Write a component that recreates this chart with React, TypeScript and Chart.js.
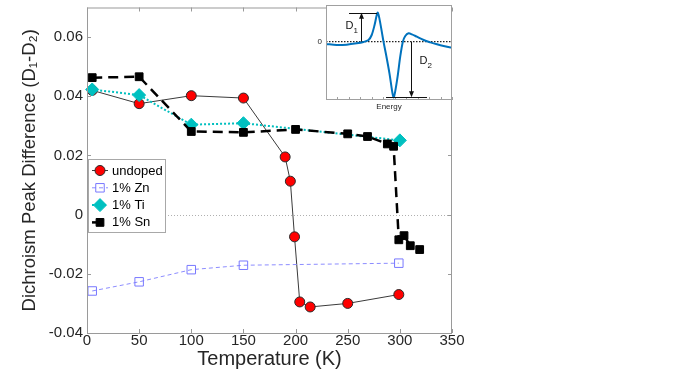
import React, { useEffect, useRef } from 'react';
import { Chart, registerables } from 'chart.js';

Chart.register(...registerables);

// ---------- main chart data ----------
const undopedT = [5, 50, 100, 150, 190, 195, 199, 204, 214, 250, 299];
const undopedD = [0.042, 0.0375, 0.0402, 0.0394, 0.0195, 0.0113, -0.0075, -0.0295, -0.0312, -0.03, -0.027];
const znT = [5, 50, 100, 150, 299];
const znD = [-0.0258, -0.0227, -0.0186, -0.0171, -0.0164];
const tiT = [5, 50, 100, 150, 300];
const tiD = [0.0423, 0.0404, 0.0304, 0.0309, 0.0251];
const snT = [5, 50, 100, 150, 200, 250, 269, 288, 294, 299, 304, 310, 319];
const snD = [0.0463, 0.0466, 0.0281, 0.0278, 0.0288, 0.0273, 0.0264, 0.0239, 0.0231, -0.0085, -0.0071, -0.0105, -0.0118];
const seriesLabels = ['undoped', '1% Zn', '1% Ti', '1% Sn'];

const xTicks = [0, 50, 100, 150, 200, 250, 300, 350];
const yTicks = [-0.04, -0.02, 0, 0.02, 0.04, 0.06];
const yTickLabels = ['-0.04', '-0.02', '0', '0.02', '0.04', '0.06'];

// ---------- inset data ----------
const energy = [0, 9.35, 18.0, 26.8, 32.7, 37.1, 39.9, 42.4, 44.3, 45.2, 46.6, 48.7, 50.2, 52.5, 55.4, 57.8, 59.0, 60.1, 62.5, 64.8, 67.1, 69.2, 72.1, 75.0, 79.3, 85.3, 91.1, 96.9, 102.7, 110];
const signal = [-0.07, -0.1, -0.09, -0.05, -0.01, 0.05, 0.2, 0.5, 0.8, 0.87, 0.7, 0.3, 0.0, -0.4, -0.95, -1.5, -1.67, -1.55, -1.05, -0.45, 0.0, 0.17, 0.25, 0.22, 0.15, 0.05, -0.02, -0.08, -0.13, -0.18];
const insetXTicks = [0, 10, 20, 30, 40, 50, 60, 70, 80, 90, 100, 110];
const d1Arrow = { x: 30.3, from: 0, to: 0.87, barFrom: 20.1, barTo: 44.6 };
const d2Arrow = { x: 74.2, from: 0, to: -1.67, barFrom: 52.4, barTo: 88.2 };

const FONT = "'Liberation Sans', Arial, Helvetica, sans-serif";
const TXT = '#262626';

const pts = (xs: number[], ys: number[]) => xs.map((x, i) => ({ x, y: ys[i] }));

function drawMarker(ctx: CanvasRenderingContext2D, style: string, x: number, y: number, r: number, fill: string, stroke: string) {
  ctx.save();
  ctx.setLineDash([]);
  ctx.beginPath();
  if (style === 'circle') {
    ctx.arc(x, y, r, 0, Math.PI * 2);
  } else if (style === 'rect') {
    const s = r * Math.SQRT1_2;
    ctx.rect(x - s, y - s, 2 * s, 2 * s);
  } else {
    ctx.moveTo(x, y - r);
    ctx.lineTo(x + r, y);
    ctx.lineTo(x, y + r);
    ctx.lineTo(x - r, y);
    ctx.closePath();
  }
  ctx.fillStyle = fill;
  ctx.fill();
  ctx.strokeStyle = stroke;
  ctx.lineWidth = 1;
  ctx.stroke();
  ctx.restore();
}

const mainPlugin = {
  id: 'mainDecor',
  beforeDatasetsDraw(chart: any) {
    const { ctx, chartArea, scales } = chart;
    const y0 = scales.y.getPixelForValue(0);
    ctx.save();
    ctx.strokeStyle = '#b0b0b0';
    ctx.lineWidth = 1;
    ctx.setLineDash([1, 2]);
    ctx.beginPath();
    ctx.moveTo(chartArea.left, Math.round(y0) + 0.5);
    ctx.lineTo(chartArea.right, Math.round(y0) + 0.5);
    ctx.stroke();
    ctx.restore();
  },
  afterDatasetsDraw(chart: any) {
    const { ctx, chartArea, scales } = chart;
    const { left, right, top, bottom } = chartArea;
    ctx.save();
    ctx.strokeStyle = '#9a9a9a';
    ctx.lineWidth = 1;
    ctx.setLineDash([]);
    ctx.strokeRect(left + 0.5, top + 0.5, right - left - 1, bottom - top);
    ctx.beginPath();
    xTicks.forEach((v) => {
      const px = Math.round(scales.x.getPixelForValue(v)) + 0.5;
      ctx.moveTo(px, bottom);
      ctx.lineTo(px, bottom - 4);
      ctx.moveTo(px, top);
      ctx.lineTo(px, top + 4);
    });
    yTicks.forEach((v) => {
      const py = Math.round(scales.y.getPixelForValue(v)) + 0.5;
      ctx.moveTo(left, py);
      ctx.lineTo(left + 4, py);
      ctx.moveTo(right, py);
      ctx.lineTo(right - 4, py);
    });
    ctx.stroke();
    ctx.restore();
  },
  afterDraw(chart: any) {
    const { ctx } = chart;
    const bx = 88, by = 159, bw = 77, bh = 73;
    ctx.save();
    ctx.fillStyle = '#ffffff';
    ctx.fillRect(bx, by, bw, bh);
    ctx.strokeStyle = '#a8a8a8';
    ctx.lineWidth = 1;
    ctx.strokeRect(bx + 0.5, by + 0.5, bw, bh);
    chart.data.datasets.forEach((ds: any, i: number) => {
      const ry = by + 11.5 + i * 17.3;
      ctx.save();
      ctx.strokeStyle = ds.borderColor;
      ctx.lineWidth = ds.borderWidth;
      ctx.setLineDash(ds.borderDash || []);
      ctx.beginPath();
      ctx.moveTo(bx + 4, ry);
      ctx.lineTo(bx + 20, ry);
      ctx.stroke();
      ctx.restore();
      drawMarker(ctx, ds.pointStyle === 'rectRot' ? 'diamond' : ds.pointStyle, bx + 12, ry, ds.pointRadius, ds.pointBackgroundColor, ds.pointBorderColor);
      ctx.fillStyle = '#000';
      ctx.font = `13px ${FONT}`;
      ctx.textBaseline = 'middle';
      ctx.textAlign = 'left';
      ctx.fillText(seriesLabels[i], bx + 24, ry + 0.5);
    });
    ctx.restore();
  },
};

const insetPlugin = {
  id: 'insetDecor',
  beforeDraw(chart: any) {
    const { ctx, chartArea } = chart;
    ctx.save();
    ctx.fillStyle = '#ffffff';
    ctx.fillRect(chartArea.left, chartArea.top, chartArea.right - chartArea.left, chartArea.bottom - chartArea.top);
    ctx.restore();
  },
  beforeDatasetsDraw(chart: any) {
    const { ctx, chartArea, scales } = chart;
    const y0 = scales.y.getPixelForValue(0);
    ctx.save();
    ctx.strokeStyle = '#222';
    ctx.lineWidth = 1.3;
    ctx.setLineDash([1.5, 1.5]);
    ctx.beginPath();
    ctx.moveTo(chartArea.left, y0);
    ctx.lineTo(chartArea.right, y0);
    ctx.stroke();
    ctx.restore();
  },
  afterDatasetsDraw(chart: any) {
    const { ctx, chartArea, scales } = chart;
    const { left, right, top, bottom } = chartArea;
    const xs = scales.x, ys = scales.y;
    ctx.save();
    ctx.strokeStyle = '#a0a0a0';
    ctx.lineWidth = 1;
    ctx.strokeRect(left + 0.5, top + 0.5, right - left - 1, bottom - top - 1);
    ctx.beginPath();
    insetXTicks.forEach((v) => {
      const px = Math.round(xs.getPixelForValue(v)) + 0.5;
      ctx.moveTo(px, bottom);
      ctx.lineTo(px, bottom - 3);
    });
    ctx.stroke();

    const arrow = (a: any) => {
      const ax = Math.round(xs.getPixelForValue(a.x)) + 0.5;
      const yf = ys.getPixelForValue(a.from);
      const yt = ys.getPixelForValue(a.to);
      const dir = yt < yf ? 1 : -1;
      ctx.strokeStyle = '#111';
      ctx.lineWidth = 1;
      ctx.setLineDash([]);
      ctx.beginPath();
      ctx.moveTo(ax, yf);
      ctx.lineTo(ax, yt + dir * 4);
      ctx.moveTo(xs.getPixelForValue(a.barFrom), Math.round(yt) + 0.5);
      ctx.lineTo(xs.getPixelForValue(a.barTo), Math.round(yt) + 0.5);
      ctx.stroke();
      ctx.fillStyle = '#111';
      ctx.beginPath();
      ctx.moveTo(ax, yt);
      ctx.lineTo(ax - 2.5, yt + dir * 6);
      ctx.lineTo(ax + 2.5, yt + dir * 6);
      ctx.closePath();
      ctx.fill();
      return { ax, yf, yt };
    };
    const a1 = arrow(d1Arrow);
    const a2 = arrow(d2Arrow);

    const label = (x: number, y: number, sub: string) => {
      ctx.fillStyle = '#111';
      ctx.textAlign = 'left';
      ctx.textBaseline = 'alphabetic';
      ctx.font = `11px ${FONT}`;
      ctx.fillText('D', x, y);
      ctx.font = `8px ${FONT}`;
      ctx.fillText(sub, x + 8, y + 4);
    };
    label(a1.ax - 16, a1.yt + 16, '1');
    label(a2.ax + 8, a2.yf + 22, '2');
    ctx.restore();
  },
};

export default function App() {
  const mainRef = useRef<HTMLCanvasElement>(null);
  const insetRef = useRef<HTMLCanvasElement>(null);

  useEffect(() => {
    const main = new Chart(mainRef.current as HTMLCanvasElement, {
      type: 'line',
      data: {
        datasets: [
          {
            label: seriesLabels[0],
            data: pts(undopedT, undopedD),
            order: 3,
            borderColor: '#3a3a3a',
            borderWidth: 1,
            pointStyle: 'circle',
            pointRadius: 5,
            pointBackgroundColor: '#ff0000',
            pointBorderColor: '#2a2a2a',
            pointBorderWidth: 1,
            clip: false,
          },
          {
            label: seriesLabels[1],
            data: pts(znT, znD),
            order: 2,
            borderColor: '#8c8cff',
            borderDash: [4, 3],
            borderWidth: 1,
            pointStyle: 'rect',
            pointRadius: 6,
            pointBackgroundColor: 'rgba(255,255,255,0)',
            pointBorderColor: '#7878ff',
            pointBorderWidth: 1,
            clip: false,
          },
          {
            label: seriesLabels[2],
            data: pts(tiT, tiD),
            order: 1,
            borderColor: '#00bfbf',
            borderDash: [2, 2],
            borderWidth: 2,
            pointStyle: 'rectRot',
            pointRadius: 6.5,
            pointBackgroundColor: '#00c0c0',
            pointBorderColor: '#00c0c0',
            pointBorderWidth: 1,
            clip: false,
          },
          {
            label: seriesLabels[3],
            data: pts(snT, snD),
            order: 0,
            borderColor: '#000000',
            borderDash: [10, 6],
            borderWidth: 2.5,
            pointStyle: 'rect',
            pointRadius: 5.5,
            pointBackgroundColor: '#000000',
            pointBorderColor: '#000000',
            pointBorderWidth: 1,
            clip: false,
          },
        ] as any,
      },
      options: {
        responsive: false,
        animation: false,
        layout: { padding: { top: 5, right: 230, left: 0, bottom: 0 } },
        elements: { line: { tension: 0, fill: false } },
        plugins: { legend: { display: false }, tooltip: { enabled: false } },
        scales: {
          x: {
            type: 'linear',
            min: 0,
            max: 350,
            afterBuildTicks: (s: any) => {
              s.ticks = xTicks.map((v) => ({ value: v }));
            },
            afterFit: (s: any) => {
              s.height = 41;
              s.paddingLeft = 0;
              s.paddingRight = 0;
            },
            grid: { display: false, drawTicks: false },
            border: { display: false },
            ticks: {
              padding: 0,
              color: TXT,
              font: { family: FONT, size: 15, lineHeight: 1 },
              maxRotation: 0,
              autoSkip: false,
              callback: (v: any) => String(v),
            },
            title: {
              display: true,
              text: 'Temperature (K)',
              color: TXT,
              font: { family: FONT, size: 20 },
              padding: { top: 0, bottom: 3 },
            },
          },
          y: {
            type: 'linear',
            min: -0.04,
            max: 0.07,
            afterBuildTicks: (s: any) => {
              s.ticks = yTicks.map((v) => ({ value: v }));
            },
            afterFit: (s: any) => {
              s.width = 87;
              s.paddingTop = 0;
              s.paddingBottom = 0;
            },
            grid: { display: false, drawTicks: false },
            border: { display: false },
            ticks: {
              padding: 4,
              color: TXT,
              font: { family: FONT, size: 15 },
              autoSkip: false,
              callback: (_v: any, i: number) => yTickLabels[i],
            },
            title: {
              display: true,
              text: 'Dichroism Peak Difference (D\u2081-D\u2082)',
              color: TXT,
              font: { family: FONT, size: 18.5 },
              padding: { top: 19, bottom: 0 },
            },
          },
        },
      } as any,
      plugins: [mainPlugin],
    });

    const inset = new Chart(insetRef.current as HTMLCanvasElement, {
      type: 'line',
      data: {
        datasets: [
          {
            label: 'spectrum',
            data: pts(energy, signal),
            borderColor: 'rgb(0,114,189)',
            borderWidth: 2,
            pointRadius: 0,
            tension: 0.3,
          },
        ],
      },
      options: {
        responsive: false,
        animation: false,
        layout: { padding: { top: 5, right: 8, left: 0, bottom: 0 } },
        plugins: { legend: { display: false }, tooltip: { enabled: false } },
        scales: {
          x: {
            type: 'linear',
            min: 0,
            max: 110,
            afterBuildTicks: (s: any) => {
              s.ticks = insetXTicks.map((v) => ({ value: v }));
            },
            afterFit: (s: any) => {
              s.height = 16;
              s.paddingLeft = 0;
              s.paddingRight = 0;
            },
            grid: { display: false, drawTicks: false },
            border: { display: false },
            ticks: { display: false },
            title: {
              display: true,
              text: 'Energy',
              color: TXT,
              font: { family: FONT, size: 8 },
              padding: { top: 0, bottom: 4 },
            },
          },
          y: {
            type: 'linear',
            min: -1.75,
            max: 1.1,
            afterBuildTicks: (s: any) => {
              s.ticks = [{ value: 0 }];
            },
            afterFit: (s: any) => {
              s.width = 26;
              s.paddingTop = 0;
              s.paddingBottom = 0;
            },
            grid: { display: false, drawTicks: false },
            border: { display: false },
            ticks: {
              padding: 4,
              color: TXT,
              font: { family: FONT, size: 8 },
              callback: () => '0',
            },
          },
        },
      } as any,
      plugins: [insetPlugin],
    });

    return () => {
      main.destroy();
      inset.destroy();
    };
  }, []);

  return (
    <div style={{ position: 'fixed', left: 0, top: 0, width: 682, height: 374, background: '#ffffff' }}>
      <canvas ref={mainRef} width={682} height={374} style={{ position: 'absolute', left: 0, top: 0 }} />
      <canvas ref={insetRef} width={160} height={116} style={{ position: 'absolute', left: 300, top: 0 }} />
    </div>
  );
}
